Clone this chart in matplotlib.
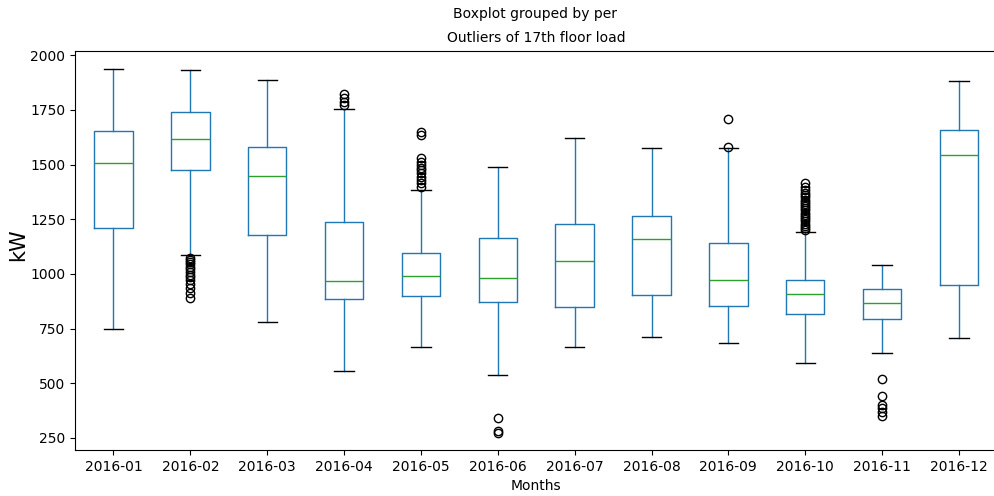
import numpy as np
import matplotlib
matplotlib.use("Agg")
import matplotlib.pyplot as plt

months = ["2016-01", "2016-02", "2016-03", "2016-04", "2016-05", "2016-06",
          "2016-07", "2016-08", "2016-09", "2016-10", "2016-11", "2016-12"]

# box statistics (kW)
whis_lo = [747, 1085, 780, 554, 667, 539, 667, 713, 684, 594, 640, 708]
q1 = [1209, 1474, 1176, 884, 899, 870, 848, 903, 853, 818, 792, 949]
med = [1506, 1615, 1446, 967, 989, 982, 1057, 1158, 972, 909, 865, 1542]
q3 = [1654, 1740, 1581, 1237, 1097, 1164, 1226, 1266, 1142, 973, 932, 1656]
whis_hi = [1936, 1930, 1886, 1755, 1383, 1490, 1621, 1575, 1575, 1191, 1039, 1880]

outliers = [
    [],
    [1071, 1062, 1055, 1045, 1033, 1022, 1010, 995, 985, 972, 955, 934, 911, 888],
    [],
    [1822, 1802, 1787, 1771],
    [1649, 1634, 1528, 1512, 1497, 1485, 1474, 1459, 1444, 1429, 1414, 1398],
    [340, 280, 274],
    [],
    [],
    [1706, 1582],
    [1414, 1395, 1382, 1370, 1360, 1350, 1340, 1330, 1320, 1310, 1300, 1290,
     1280, 1270, 1260, 1250, 1240, 1230, 1220, 1210, 1200],
    [521, 442, 400, 385, 370, 352],
    [],
]

stats = []
for i in range(len(months)):
    stats.append({"label": months[i], "whislo": whis_lo[i], "q1": q1[i],
                  "med": med[i], "q3": q3[i], "whishi": whis_hi[i],
                  "fliers": outliers[i]})

fig = plt.figure(figsize=(9.95, 4.96), dpi=100)
ax = fig.add_axes([0.0754, 0.0927, 0.927, 0.805])

blue = "#1f77b4"
ax.bxp(stats, widths=0.5, patch_artist=False,
       boxprops=dict(color=blue),
       whiskerprops=dict(color=blue),
       capprops=dict(color="black"),
       medianprops=dict(color="#2ca02c"),
       flierprops=dict(marker="o", markerfacecolor="none",
                       markeredgecolor="black", markersize=6))

# the reference is cropped just before the right edge of the axes
ax.spines["right"].set_visible(False)

ax.set_xlim(0.5, 12.5)
ax.set_ylim(195, 2020)
ax.set_yticks([250, 500, 750, 1000, 1250, 1500, 1750, 2000])
ax.tick_params(labelsize=10)
ax.set_title("Outliers of 17th floor load", fontsize=10)
fig.suptitle("Boxplot grouped by per", fontsize=10, y=0.985, x=0.538)
ax.set_xlabel("Months", fontsize=10)
ax.set_ylabel("kW", fontsize=15)
ax.yaxis.set_label_coords(-0.051, 0.515)

fig.savefig("out.png", dpi=100)
